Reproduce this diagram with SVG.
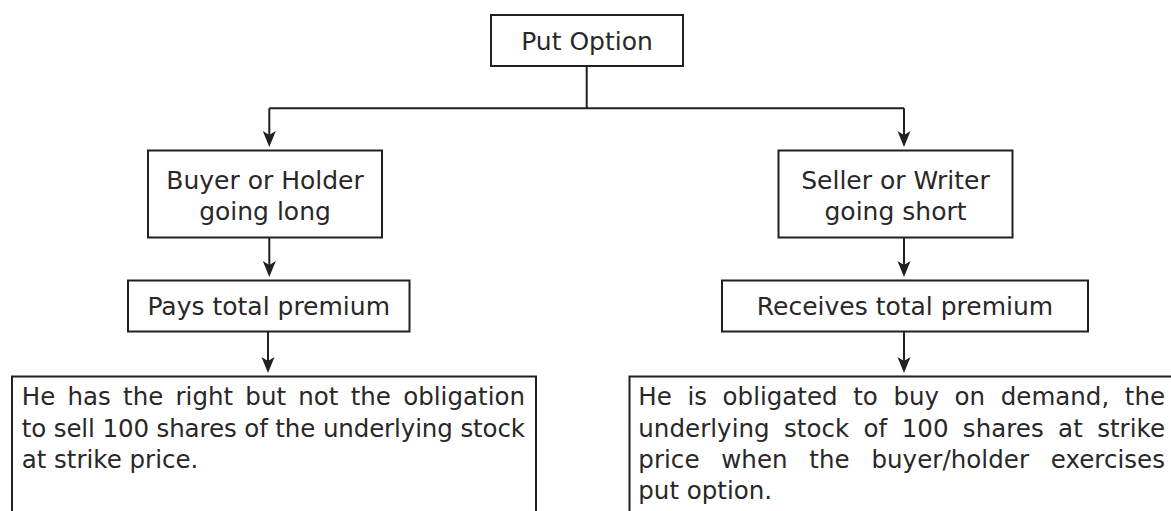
<svg xmlns="http://www.w3.org/2000/svg" width="1171" height="511" viewBox="0 0 1171 511">
<style>
.box{fill:#fff;stroke:#231f20;stroke-width:2}
.ln{fill:none;stroke:#231f20;stroke-width:2}
.lbl{font-family:"DejaVu Sans",sans-serif;font-size:25px;fill:#2a2728;text-anchor:middle}
.par{font-family:"DejaVu Sans",sans-serif;font-size:24.5px;fill:#2a2728}
</style>
<defs>
<marker id="ah" markerUnits="userSpaceOnUse" viewBox="-8 -8 20 16" refX="0" refY="0" markerWidth="20" markerHeight="16" orient="auto">
<path d="M10,0 L-6,-6.5 L-2,0 L-6,6.5 Z" fill="#231f20"/>
</marker>
</defs>
<rect width="1171" height="511" fill="#fff"/>
<g id="connectors">
<path class="ln" d="M586.7,66 V108.3"/>
<path class="ln" d="M269.3,108.3 H904"/>
<path class="ln" d="M269.3,108.3 V137" marker-end="url(#ah)"/>
<path class="ln" d="M904,108.3 V137" marker-end="url(#ah)"/>
<path class="ln" d="M269.3,238 V267" marker-end="url(#ah)"/>
<path class="ln" d="M904,238 V267" marker-end="url(#ah)"/>
<path class="ln" d="M268,332 V363" marker-end="url(#ah)"/>
<path class="ln" d="M904,332 V363" marker-end="url(#ah)"/>
</g>
<g id="put-option">
<rect class="box" x="491" y="15" width="192" height="51"/>
<text class="lbl" x="587" y="50">Put Option</text>
</g>
<g id="buyer">
<rect class="box" x="148" y="150.5" width="234" height="87"/>
<text class="lbl" x="265" y="188.5">Buyer or Holder</text>
<text class="lbl" x="265" y="220">going long</text>
</g>
<g id="seller">
<rect class="box" x="778.5" y="150.5" width="234" height="87"/>
<text class="lbl" x="895.5" y="188.5">Seller or Writer</text>
<text class="lbl" x="895.5" y="220">going short</text>
</g>
<g id="pays">
<rect class="box" x="128" y="280.5" width="281.5" height="51"/>
<text class="lbl" x="268.7" y="315">Pays total premium</text>
</g>
<g id="receives">
<rect class="box" x="722" y="280.5" width="366" height="51"/>
<text class="lbl" x="905" y="315">Receives total premium</text>
</g>
<g id="buyer-right">
<rect class="box" x="12" y="376.5" width="524" height="200"/>
<text class="par" x="21.7" y="405" word-spacing="4.4" textLength="503.3" lengthAdjust="spacing">He has the right but not the obligation</text>
<text class="par" x="21.7" y="436.7" textLength="503.3" lengthAdjust="spacing">to sell 100 shares of the underlying stock</text>
<text class="par" x="21.7" y="468">at strike price.</text>
</g>
<g id="seller-obligation">
<rect class="box" x="629.5" y="376.5" width="600" height="200"/>
<text class="par" x="638.3" y="405" word-spacing="7.8" textLength="526.7" lengthAdjust="spacing">He is obligated to buy on demand, the</text>
<text class="par" x="638.3" y="436.7" word-spacing="6.5" textLength="526.7" lengthAdjust="spacing">underlying stock of 100 shares at strike</text>
<text class="par" x="638.3" y="468.3" word-spacing="13.9" textLength="526.7" lengthAdjust="spacing">price when the buyer/holder exercises</text>
<text class="par" x="638.3" y="498.5">put option.</text>
</g>
</svg>
